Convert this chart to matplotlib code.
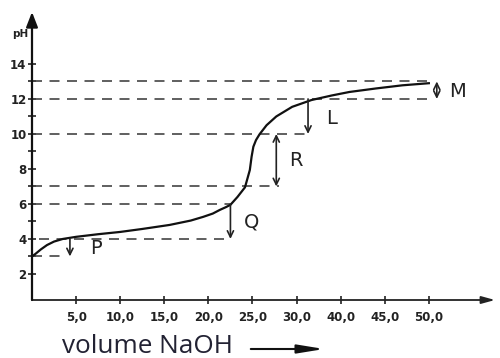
import matplotlib
matplotlib.use("Agg")
import matplotlib.pyplot as plt

# ---- data ----
volume = [0, 0.4, 1.0, 1.7, 2.5, 3.5, 5.0, 7.5, 10.0, 12.5, 15.6, 18.0, 19.4, 20.5,
          21.3, 22.0, 22.5, 23.3, 24.15, 24.7, 24.9, 25.1, 25.4, 25.8, 26.6, 27.7,
          29.5, 31.7, 34.0, 36.0, 39.0, 42.0, 45.0]
ph = [3.0, 3.15, 3.4, 3.65, 3.85, 4.0, 4.12, 4.27, 4.4, 4.57, 4.8, 5.05, 5.26, 5.45,
      5.66, 5.82, 5.95, 6.4, 6.95, 7.94, 8.7, 9.27, 9.65, 9.98, 10.5, 11.0,
      11.55, 11.94, 12.2, 12.4, 12.6, 12.78, 12.9]

x_tick_pos = [5, 10, 15, 20, 25, 30, 35, 40, 45]
x_tick_labels = ["5,0", "10,0", "15,0", "20,0", "25,0", "30,0", "40,0", "45,0", "50,0"]
y_ticks = list(range(2, 15))
y_tick_labels = [str(v) if v % 2 == 0 else "" for v in y_ticks]

# dashed guide lines: level, x start, x end
guide_levels = [13, 12, 10, 7, 6, 4, 3]
guide_x0 = [0, 0, 0, 0, 0, 0.8, 0]
guide_x1 = [45.5, 45.3, 31.3, 28.0, 22.5, 22.5, 3.2]

# annotation arrows: label, x, ph from, ph to, style, label x, label y
arrow_labels = ["P", "Q", "R", "L", "M"]
arrow_x = [4.3, 22.5, 27.7, 31.3, 45.9]
arrow_from = [4.0, 6.0, 7.0, 12.0, 13.0]
arrow_to = [3.0, 4.0, 10.0, 10.0, 12.0]
arrow_style = ["->", "->", "<->", "->", "<->"]
label_x = [7.3, 24.9, 29.9, 34.0, 48.3]
label_y = [3.45, 4.95, 8.5, 10.9, 12.45]

W, H = 500, 358
fig = plt.figure(figsize=(W / 100, H / 100), dpi=100)
ax = fig.add_axes([32 / W, (H - 300) / H, 463 / W, 288 / H])
xmin, xmax = 0, 52.5
ymin, ymax = 0.51, 16.97
ax.set_xlim(xmin, xmax)
ax.set_ylim(ymin, ymax)
for s in ax.spines.values():
    s.set_visible(False)

# axes with arrows
ax.annotate("", xy=(xmax, ymin), xytext=(0, ymin),
            arrowprops=dict(arrowstyle="-|>,head_length=0.8,head_width=0.22", lw=1.3,
                            color="#222222", shrinkA=0, shrinkB=0), annotation_clip=False)
ax.annotate("", xy=(0, ymax), xytext=(0, ymin),
            arrowprops=dict(arrowstyle="-|>,head_length=0.9,head_width=0.35", lw=1.6,
                            color="#111111", shrinkA=0, shrinkB=0), annotation_clip=False)

ax.set_xticks(x_tick_pos)
ax.set_xticklabels(x_tick_labels)
ax.set_yticks(y_ticks)
ax.set_yticklabels(y_tick_labels)
ax.tick_params(axis="both", direction="inout", length=6, width=1.2, color="#222222",
               labelsize=8.5, labelcolor="#222222")
ax.tick_params(axis="x", pad=5)
ax.tick_params(axis="y", pad=1)
for lab in ax.get_xticklabels() + ax.get_yticklabels():
    lab.set_fontweight("bold")

# guide lines
for lvl, a, b in zip(guide_levels, guide_x0, guide_x1):
    ax.plot([a, b], [lvl, lvl], color="#444444", lw=1.2, linestyle=(0, (6, 4.5)))

# titration curve
ax.plot(volume, ph, color="#111111", lw=1.6)

# annotation arrows and labels
for lab, x, a, b, st, lx, ly in zip(arrow_labels, arrow_x, arrow_from, arrow_to,
                                    arrow_style, label_x, label_y):
    ax.annotate("", xy=(x, b), xytext=(x, a),
                arrowprops=dict(arrowstyle=st + ",head_length=0.45,head_width=0.22",
                                lw=1.2, color="#222222", shrinkA=0, shrinkB=0))
    ax.text(lx, ly, lab, fontsize=14, color="#222222", ha="center", va="center")

fig.text(20 / W, 1 - 34 / H, "pH", fontsize=7.5, fontweight="bold", color="#222222",
         ha="center", va="center")

fig.text(62 / W, 1 - 353 / H, "volume NaOH", fontsize=18.8, family="Open Sans",
         color="#222233", ha="left", va="baseline")
fig.add_artist(matplotlib.patches.FancyArrowPatch(
    (248 / W, 1 - 349 / H), (327 / W, 1 - 349 / H), transform=fig.transFigure,
    arrowstyle="-|>,head_length=8,head_width=1.3", lw=1.5, color="#111111",
    mutation_scale=2))

fig.savefig("out.png", dpi=100)
